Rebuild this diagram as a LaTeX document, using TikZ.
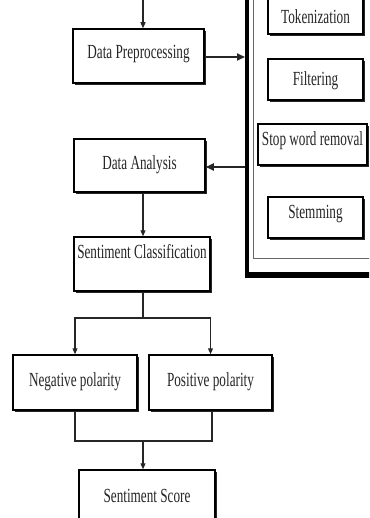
\documentclass[tikz,border=0pt]{standalone}
\usepackage{fontspec}
\setmainfont{Liberation Serif}[FakeStretch=0.66]
\usetikzlibrary{arrows.meta,shadows}
\begin{document}
\begin{tikzpicture}[x=1pt,y=-1pt,
  box/.style={draw=black,line width=1.5pt,fill=white,inner sep=0pt,
    drop shadow={shadow xshift=1.6pt,shadow yshift=-1.6pt,fill=black!85,opacity=1}},
  txt/.style={font=\fontsize{20}{22}\selectfont,text=black!85,inner sep=0pt},
  conn/.style={line width=1.1pt,draw=black!85},
  arr/.style={conn,-{Triangle[length=6pt,width=5pt]}}]
\useasboundingbox (0,0) rectangle (369,518);
\clip (0,0) rectangle (369,518);
% right panel
\draw[line width=1pt,black!60] (253,0) -- (253,258) -- (371,258);
\draw[line width=4pt] (247,0) -- (247,277);
\draw[line width=6pt] (245,275) -- (371,275);
\node[box,minimum width=95pt,minimum height=54pt] (tok) at (315.5,7) {};
\node[txt] at (315.5,17) {Tokenization};
\node[box,minimum width=95pt,minimum height=41pt] (filt) at (315.5,79.5) {};
\node[txt] at (315.5,81) {Filtering};
\node[box,minimum width=109pt,minimum height=41pt] (stop) at (312.5,144.5) {};
\node[txt] at (312.5,141) {Stop word removal};
\node[box,minimum width=95pt,minimum height=41pt] (stem) at (315.5,217.5) {};
\node[txt] at (315.5,214) {Stemming};
% left flow
\node[box,minimum width=131pt,minimum height=54pt] (dp) at (138.5,56) {};
\node[txt] at (138.5,54.5) {Data Preprocessing};
\node[box,minimum width=131pt,minimum height=53pt] (da) at (139.5,165.5) {};
\node[txt] at (139.5,165) {Data Analysis};
\node[box,minimum width=136pt,minimum height=54pt] (sc) at (142,264) {};
\node[txt] at (142,252) {Sentiment Classification};
\node[box,minimum width=124pt,minimum height=55pt] (neg) at (75,382.5) {};
\node[txt] at (75,382) {Negative polarity};
\node[box,minimum width=123pt,minimum height=55pt] (pos) at (210.5,382.5) {};
\node[txt] at (210.5,382) {Positive polarity};
\node[box,minimum width=136pt,minimum height=64pt] (ss) at (147,502) {};
\node[txt] at (147,496) {Sentiment Score};
% coordinates
\coordinate (top) at (143,0);
\coordinate (pin) at (245,57);
\coordinate (pout) at (245,167);
\coordinate (split) at (143,318);
\coordinate (merge) at (143,441);
% connectors
\draw[arr] (top) -- (top |- dp.north);
\draw[conn,line width=1.7pt,-{Triangle[length=8pt,width=7pt]}] (dp.east |- pin) -- (pin);
\draw[conn,line width=1.7pt,-{Triangle[length=8pt,width=7pt]}] (pout) -- (da.east |- pout);
\draw[arr] (da.south -| top) -- (sc.north -| top);
\draw[conn] (sc.south -| split) -- (split);
\draw[arr] (split) -| (neg.north);
\draw[arr] (split) -| (pos.north);
\draw[conn] (neg.south) |- (merge);
\draw[conn] ([xshift=1.5pt]pos.south) |- (merge);
\draw[arr] (merge) -- (ss.north -| merge);
\end{tikzpicture}
\end{document}
